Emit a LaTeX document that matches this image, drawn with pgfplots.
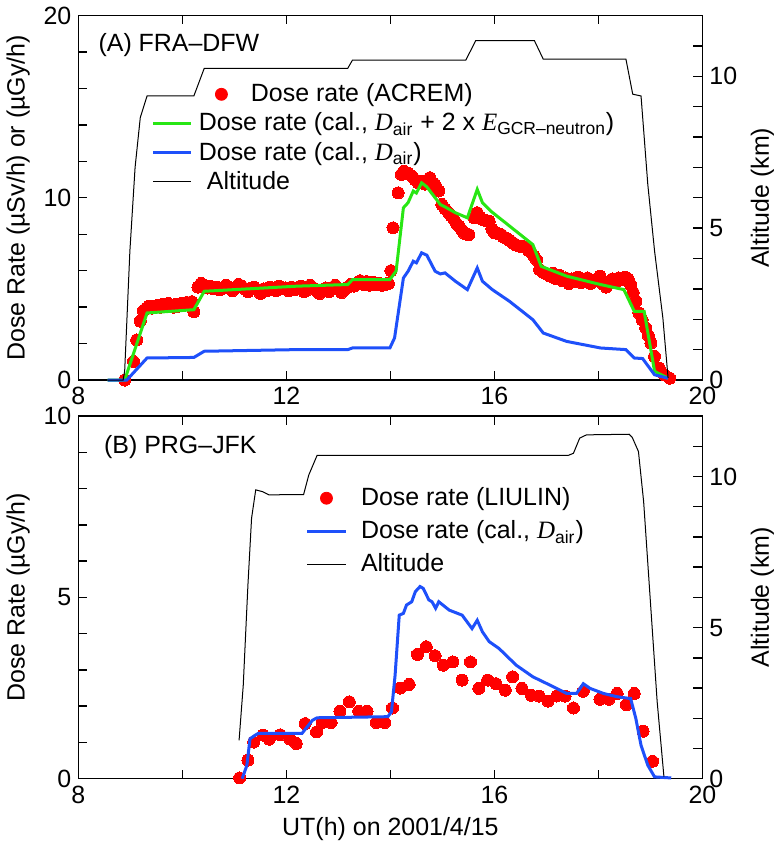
\documentclass[border=0pt]{standalone}
\usepackage{fontspec}
\setmainfont{Liberation Sans}
\newfontfamily\tms{Liberation Serif}
\usepackage{pgfplots}
\pgfplotsset{compat=1.18}

\definecolor{dotred}{RGB}{255,0,0}
\definecolor{calgreen}{RGB}{40,230,20}
\definecolor{calblue}{RGB}{30,80,250}

\newcommand{\Dair}{{\tms\itshape D}\textsubscript{air}}
\newcommand{\Egcr}{{\tms\itshape E}\textsubscript{GCR–neutron}}
\newcommand{\fs}{\fontsize{12.5}{15}\selectfont}

\pgfplotsset{
  base/.style={
    scale only axis, width=311.5bp,
    xmin=8, xmax=20,
    tick align=inside,
    major tick length=4.5bp, minor tick length=4.5bp,
    every tick/.style={black, line width=0.7bp},
    axis line style={line width=0.8bp},
    tick label style={font=\fs},
    label style={font=\fs},
    /pgf/number format/assume math mode=true,
  },
  doseax/.style={base, xtick={8,12,16,20}, minor xtick={10,14,18},
    xtick pos=both, xticklabel pos=bottom, ytick pos=left, clip=false},
  overax/.style={base, hide axis, clip=false},
  altax/.style={base, axis y line*=right, axis x line=none, ymin=0, ymax=12,
    ytick={0,5,10}, minor ytick={1,2,3,4,6,7,8,9,11}, ylabel={Altitude (km)},
    legend cell align=left,
    legend style={draw=none, fill=none, font=\fs, inner sep=0pt, row sep=1bp,
      nodes={inner xsep=3bp, inner ysep=1.5bp}}},
  altline/.style={black, line width=0.5bp},
  dots/.style={only marks, color=dotred, mark=*, mark size=3bp,
    mark options={solid, fill=dotred, draw=dotred, line width=0pt}},
  calline/.style={line width=1.5bp},
  shortline/.style={legend image code/.code={\draw[##1] (0bp,0bp) -- (19bp,0bp);}},
  dotlegA/.style={legend image code/.code={\fill[dotred,overlay] (34bp,0bp) circle (3bp);}},
  dotlegB/.style={legend image code/.code={\fill[dotred] (9.5bp,0bp) circle (3bp);}},
}

\begin{document}
\begin{tikzpicture}
% ---------- panel A ----------
\begin{axis}[doseax, at={(0,199bp)}, height=182bp, ymin=0, ymax=20,
  ytick={0,10,20}, minor ytick={2,4,...,18},
  ylabel={Dose Rate (µSv/h) or (µGy/h)}]
\addplot[dots] coordinates {
(8.89,0) (9.06,1.02) (9.12,2.2) (9.19,3.23) (9.25,3.8) (9.31,3.95) (9.36,4.05)
(9.42,3.95) (9.47,4.05) (9.53,4.10) (9.58,4.00) (9.63,4.15) (9.68,4.05) (9.73,4.20)
(9.78,4.10) (9.83,4.00) (9.88,4.15) (9.93,4.05) (9.98,4.20) (10.03,4.10) (10.08,4.25)
(10.13,4.15) (10.18,4.30) (10.22,3.75) (10.30,5.10) (10.36,5.30)
(10.42,5.20) (10.48,5.05) (10.54,5.15) (10.60,5.00) (10.66,5.10) (10.72,4.95) (10.78,5.05)
(10.84,5.20) (10.90,5.10) (10.96,4.90) (11.02,5.05) (11.08,5.25) (11.14,5.15) (11.20,5.00)
(11.26,4.85) (11.32,5.05) (11.38,5.10) (11.44,4.95) (11.50,4.75) (11.56,5.00) (11.62,4.90)
(11.68,5.10) (11.74,5.05) (11.80,4.90) (11.86,5.15) (11.92,5.00) (11.98,5.05) (12.04,4.90)
(12.10,5.10) (12.16,4.95) (12.22,5.00) (12.28,5.15) (12.34,4.85) (12.40,4.95) (12.46,5.20)
(12.52,5.05) (12.58,4.90) (12.64,4.75) (12.70,4.95) (12.76,5.05) (12.82,4.85) (12.88,5.05)
(12.94,5.20) (13.00,5.00) (13.06,4.80) (13.12,4.95) (13.18,5.10) (13.24,5.25) (13.30,5.15)
(13.36,5.30) (13.42,5.45) (13.48,5.25) (13.54,5.40) (13.60,5.20) (13.66,5.35) (13.72,5.25)
(13.78,5.30) (13.84,5.20) (13.90,5.25) (13.96,5.30) (14.01,6.00)
(14.05,8.35) (14.15,10.27) (14.21,11.28) (14.26,11.45) (14.34,11.35) (14.41,11.2) (14.47,11.0)
(14.54,10.8) (14.60,10.9) (14.67,10.75) (14.76,11.1) (14.83,10.8) (14.88,10.6) (14.93,10.37)
(14.99,9.63) (15.05,9.40) (15.12,9.18) (15.17,9.00) (15.22,8.81) (15.27,8.60) (15.32,8.44)
(15.37,8.25) (15.41,8.08) (15.46,8.00) (15.51,7.98) (15.61,8.9) (15.67,9.18) (15.72,8.95)
(15.77,8.81) (15.84,8.75) (15.90,8.72) (15.95,8.30) (16.00,8.08) (16.06,8.05) (16.13,7.98)
(16.17,7.85) (16.22,7.8) (16.27,7.70) (16.32,7.6) (16.37,7.50) (16.42,7.4) (16.47,7.35)
(16.52,7.33) (16.57,7.30) (16.61,7.25) (16.66,7.10) (16.71,6.98) (16.76,6.80) (16.81,6.6)
(16.87,6.06) (16.92,5.95) (16.97,5.88) (17.02,5.80) (17.07,5.70)
(17.13,5.85) (17.19,5.55) (17.25,5.75) (17.31,5.45) (17.37,5.60) (17.43,5.30) (17.49,5.55)
(17.55,5.40) (17.61,5.65) (17.67,5.35) (17.73,5.50) (17.79,5.60) (17.85,5.30) (17.91,5.45)
(17.97,5.55) (18.03,5.70) (18.09,5.25) (18.15,5.10) (18.21,5.40) (18.27,5.55) (18.33,5.35)
(18.39,5.60) (18.45,5.50) (18.51,5.65) (18.57,5.55)
(18.62,5.24) (18.67,4.80) (18.72,4.32) (18.78,3.68) (18.84,3.30) (18.91,2.86) (18.96,2.45)
(19.01,2.03) (19.08,1.3) (19.17,0.66) (19.27,0.29) (19.37,0.1)
};
\node[anchor=west, font=\fs] at (rel axis cs:0.021,0.918) {(A) FRA–DFW};
\end{axis}
\begin{axis}[overax, at={(0,199bp)}, height=182bp, ymin=0, ymax=20]
\addplot[calgreen, calline] coordinates {
(8.56,0) (8.89,0) (9.32,3.68) (10.22,3.86) (10.42,4.87) (12.20,5.15) (13.18,5.24)
(13.27,5.51) (13.99,5.51) (14.11,5.98) (14.25,9.45) (14.34,9.73) (14.44,10.37) (14.50,10.26)
(14.60,10.82) (14.70,10.6) (14.86,10.0) (14.96,9.63) (15.05,9.5) (15.25,9.18) (15.48,8.9)
(15.67,10.46) (15.77,9.73) (15.93,9.27) (16.74,7.43) (16.90,6.24) (17.39,5.70) (18.04,5.24)
(18.49,4.96) (18.69,3.77) (18.88,3.77) (19.08,0.48) (19.34,0.1)
};
\addplot[calblue, calline] coordinates {
(8.56,0) (8.93,0) (9.32,1.21) (10.22,1.24) (10.42,1.58) (12.20,1.67) (13.18,1.67)
(13.27,1.76) (13.99,1.76) (14.08,2.31) (14.25,5.6) (14.34,5.97) (14.44,6.52) (14.50,6.43)
(14.60,6.98) (14.70,6.85) (14.86,5.97) (14.96,5.82) (15.05,5.88) (15.25,5.42) (15.48,4.96)
(15.67,6.15) (15.77,5.42) (15.96,4.96) (16.29,4.32) (16.74,3.31) (16.94,2.58) (17.39,2.12)
(18.04,1.76) (18.53,1.67) (18.69,1.21) (18.85,1.18) (19.08,0.29) (19.34,0.1)
};
\end{axis}
\begin{axis}[altax, at={(0,199bp)}, height=182bp,
  legend style={at={(0.117,0.822)}, anchor=north west}]
\addlegendimage{dotlegA}
\addlegendentry{\hspace*{26bp}Dose rate (ACREM)}
\addlegendimage{shortline, calgreen, calline}
\addlegendentry{Dose rate (cal., \Dair{} + 2 x \Egcr)}
\addlegendimage{shortline, calblue, calline}
\addlegendentry{Dose rate (cal., \Dair)}
\addplot[altline, shortline] coordinates {
(8.56,0) (8.86,0) (8.89,0.3) (8.99,4.25) (9.09,7.0) (9.19,8.64) (9.32,9.35) (10.22,9.35)
(10.42,10.26) (13.18,10.26) (13.27,10.53) (15.45,10.53) (15.64,11.17) (16.77,11.17)
(16.94,10.56) (18.53,10.56) (18.66,9.41) (18.82,9.35) (18.95,6.44) (19.08,4.25)
(19.24,2.04) (19.34,0.07)
};
\addlegendentry{\hspace*{4bp}Altitude}
\end{axis}
% ---------- panel B ----------
\begin{axis}[doseax, at={(0,0)}, height=181bp, ymin=0, ymax=10,
  ytick={0,5,10}, minor ytick={1,2,3,4,6,7,8,9},
  xlabel={UT(h) on 2001/4/15}, ylabel={Dose Rate (µGy/h)}]
\addplot[dots] coordinates {
(11.10,0.02) (11.26,0.51) (11.37,1.01) (11.55,1.2) (11.67,1.09) (11.88,1.21) (12.07,1.09)
(12.19,0.97) (12.36,1.52) (12.58,1.29) (12.69,1.55) (12.86,1.55) (13.03,1.86) (13.21,2.12)
(13.39,1.86) (13.55,1.86) (13.73,1.55) (13.89,1.55) (14.04,1.95) (14.19,2.5) (14.36,2.6)
(14.52,3.43) (14.69,3.64) (14.86,3.39) (15.02,3.13) (15.20,3.22) (15.38,2.72) (15.54,3.22)
(15.70,2.49) (15.87,2.72) (16.03,2.62) (16.21,2.44) (16.35,2.81) (16.53,2.49) (16.71,2.3)
(16.86,2.28) (17.03,2.14) (17.20,2.28) (17.36,2.28) (17.52,1.95) (17.71,2.41) (18.03,2.19)
(18.20,2.19) (18.36,2.35) (18.54,2.04) (18.69,2.35) (18.86,1.31) (19.04,0.48)
};
\node[anchor=west, font=\fs] at (rel axis cs:0.03,0.914) {(B) PRG–JFK};
\end{axis}
\begin{axis}[overax, at={(0,0)}, height=181bp, ymin=0, ymax=10]
\addplot[calblue, calline] coordinates {
(11.15,0) (11.24,0.37) (11.30,1.1) (11.40,1.2) (11.46,1.25) (12.30,1.25) (12.50,1.61)
(12.59,1.68) (13.95,1.71) (14.02,1.84) (14.09,2.85) (14.17,4.51) (14.25,4.56) (14.31,4.79)
(14.41,4.88) (14.48,5.16) (14.57,5.30) (14.63,5.25) (14.74,4.93) (14.80,4.88) (14.87,4.70)
(14.93,4.88) (15.13,4.65) (15.38,4.51) (15.57,4.14) (15.67,4.37) (15.77,4.05) (15.90,3.78)
(16.09,3.59) (16.42,3.13) (16.74,2.81) (17.07,2.58) (17.39,2.35) (17.58,2.35) (17.71,2.62)
(17.84,2.49) (18.10,2.35) (18.36,2.26) (18.62,2.21) (18.72,1.66) (18.82,0.92) (18.95,0.37)
(19.08,0.05) (19.40,0.02)
};
\end{axis}
\begin{axis}[altax, at={(0,0)}, height=181bp,
  legend style={at={(0.364,0.812)}, anchor=north west, row sep=3bp}]
\addlegendimage{dotlegB}
\addlegendentry{\hspace*{4bp}Dose rate (LIULIN)}
\addlegendimage{shortline, calblue, calline}
\addlegendentry{\hspace*{4bp}Dose rate (cal., \Dair)}
\addplot[altline, shortline] coordinates {
(11.09,1.27) (11.17,3.09) (11.26,6.41) (11.33,8.62) (11.41,9.56) (11.54,9.5) (11.67,9.39)
(11.93,9.4) (12.33,9.4) (12.43,10.05) (12.59,10.7) (17.42,10.7) (17.52,10.77) (17.64,11.27)
(17.77,11.38) (18.59,11.4) (18.65,11.3) (18.77,10.83) (18.87,9.17) (19.00,5.86)
(19.13,2.55) (19.26,0.07)
};
\addlegendentry{\hspace*{4bp}Altitude}
\end{axis}
\end{tikzpicture}
\end{document}
